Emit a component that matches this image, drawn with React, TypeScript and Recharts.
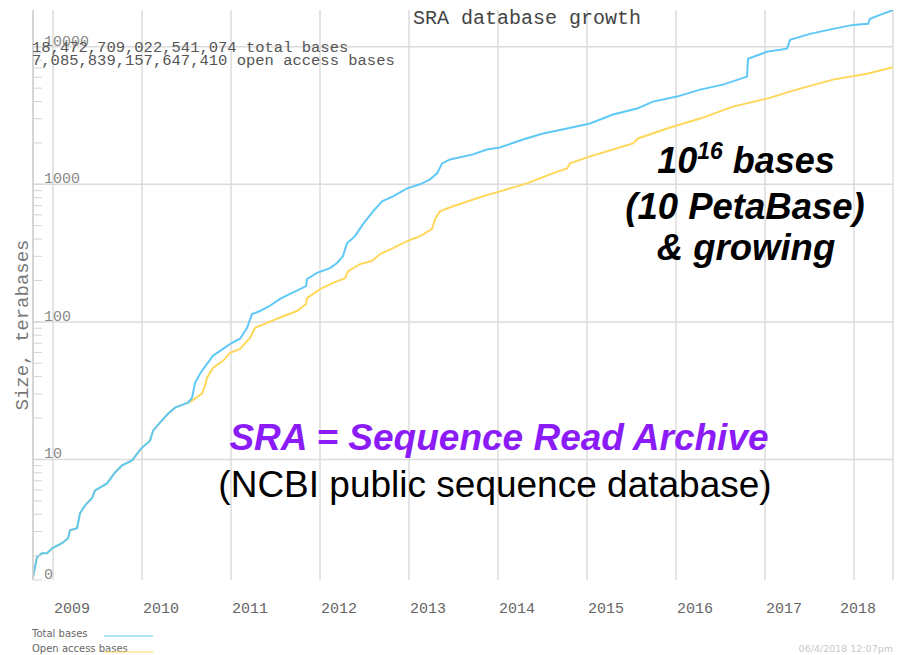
import React from 'react';
import {
  LineChart,
  Line,
  XAxis,
  YAxis,
  CartesianGrid,
  ReferenceLine,
} from 'recharts';

// decimal years and terabases
const totalDates = [
  2008.775, 2008.82, 2008.876, 2008.933, 2008.989, 2009.101, 2009.169, 2009.191, 2009.27, 2009.303,
  2009.36, 2009.438, 2009.472, 2009.551, 2009.607, 2009.697, 2009.775, 2009.888, 2009.955, 2010.0,
  2010.09, 2010.124, 2010.202, 2010.292, 2010.371, 2010.517, 2010.562, 2010.596, 2010.652, 2010.73,
  2010.798, 2010.91, 2011.011, 2011.101, 2011.18, 2011.236, 2011.326, 2011.438, 2011.551, 2011.663,
  2011.775, 2011.843, 2011.854, 2011.966, 2012.112, 2012.191, 2012.258, 2012.303, 2012.393, 2012.483,
  2012.596, 2012.697, 2012.82, 2012.978, 2013.124, 2013.236, 2013.315, 2013.371, 2013.461, 2013.719,
  2013.876, 2014.022, 2014.281, 2014.506, 2014.775, 2015.034, 2015.292, 2015.562, 2015.742, 2016.011,
  2016.27, 2016.528, 2016.798, 2016.809, 2017.022, 2017.247, 2017.281, 2017.506, 2017.764, 2017.989,
  2018.157, 2018.18, 2018.292, 2018.438,
];
const totalValues = [
  1.4, 1.95, 2.08, 2.08, 2.26, 2.46, 2.68, 3.06, 3.16, 4.06,
  4.64, 5.22, 5.96, 6.37, 6.7, 8.05, 9.05, 9.84, 11.2, 12.2,
  13.7, 16.2, 18.5, 21.5, 23.8, 25.9, 28.1, 36.1, 42.0, 49.6,
  56.8, 63.7, 70.5, 75.4, 90.5, 114, 120, 131, 147, 160,
  173, 182, 205, 227, 246, 268, 301, 373, 420, 513,
  637, 753, 818, 935, 1000, 1087, 1202, 1420, 1517, 1650,
  1793, 1855, 2118, 2343, 2548, 2770, 3215, 3554, 3994, 4343,
  4879, 5304, 6067, 8185, 9204, 9683, 11250, 12410, 13490, 14420,
  14690, 15960, 17060, 18472,
];

const openDates = [
  2008.775, 2008.82, 2008.876, 2008.933, 2008.989, 2009.101, 2009.169, 2009.191, 2009.27, 2009.303,
  2009.36, 2009.438, 2009.472, 2009.551, 2009.607, 2009.697, 2009.775, 2009.888, 2009.955, 2010.0,
  2010.09, 2010.124, 2010.202, 2010.292, 2010.371, 2010.517, 2010.562, 2010.674, 2010.708, 2010.73,
  2010.798, 2010.91, 2010.989, 2011.101, 2011.213, 2011.27, 2011.404, 2011.584, 2011.742, 2011.843,
  2011.854, 2012.0, 2012.146, 2012.281, 2012.315, 2012.449, 2012.584, 2012.674, 2012.82, 2012.978,
  2013.124, 2013.258, 2013.292, 2013.348, 2013.494, 2013.831, 2014.022, 2014.326, 2014.584, 2014.775,
  2014.809, 2015.034, 2015.292, 2015.517, 2015.573, 2015.899, 2016.27, 2016.64, 2017.022, 2017.393,
  2017.764, 2018.146, 2018.438,
];
const openValues = [
  1.4, 1.95, 2.08, 2.08, 2.26, 2.46, 2.68, 3.06, 3.16, 4.06,
  4.64, 5.22, 5.96, 6.37, 6.7, 8.05, 9.05, 9.84, 11.2, 12.2,
  13.7, 16.2, 18.5, 21.5, 23.8, 25.9, 26.8, 30.1, 34.3, 39.3,
  46.4, 52.1, 59.6, 63.7, 76.6, 90.5, 98.4, 110, 120, 135,
  149, 173, 192, 208, 234, 263, 277, 311, 344, 386,
  420, 472, 557, 637, 693, 818, 889, 1016, 1181, 1305,
  1420, 1596, 1793, 1983, 2154, 2548, 3006, 3672, 4199, 4963,
  5768, 6373, 7086,
];

const yearTicks = [2009, 2010, 2011, 2012, 2013, 2014, 2015, 2016, 2017, 2018];
const decadeTicks = [10, 100, 1000, 10000];
const yMin = 1.33;
const yMax = 18500;
const majorLabels: Record<string, string> = { '1.33': '0', '10': '10', '100': '100', '1000': '1000', '10000': '10000' };
const minorTicks = [1, 10, 100, 1000].flatMap((d) => [2, 3, 4, 5, 6, 7, 8, 9].map((m) => m * d));
const yTicks = [yMin, ...minorTicks.filter((v) => v < yMax), ...decadeTicks].sort((a, b) => a - b);

const totalData = totalDates.map((t, i) => ({ t, v: totalValues[i] }));
const openData = openDates.map((t, i) => ({ t, v: openValues[i] }));

const mono = '"Liberation Mono", "DejaVu Sans Mono", monospace';
const arial = '"Liberation Sans", Arial, sans-serif';

const YTick = (props: any) => {
  const { y, payload } = props;
  const label = majorLabels[String(payload.value)];
  if (label === undefined) return <g />;
  return (
    <text x={44} y={y - 1} fontFamily={mono} fontSize={15} fill="#8a8a8a">
      {label}
    </text>
  );
};

const XTick = (props: any) => {
  const { x, payload } = props;
  const shift = payload.value === 2018 ? -14 : 1;
  return (
    <text x={x + shift} y={613} fontFamily={mono} fontSize={15} fill="#666">
      {payload.value}
    </text>
  );
};

export default function App() {
  return (
    <div style={{ position: 'absolute', left: 0, top: 0, width: 900, height: 655, background: '#fff' }}>
      <LineChart
        width={900}
        height={655}
        margin={{ top: 10, right: 7, bottom: 0, left: 33 }}
      >
        <CartesianGrid horizontal={false} stroke="#dcdcdc" strokeWidth={1.5} />
        <XAxis
          type="number"
          dataKey="t"
          domain={[2008.775, 2018.438]}
          ticks={yearTicks}
          interval={0}
          height={75}
          axisLine={false}
          tickLine={false}
          tick={<XTick />}
          allowDataOverflow
        />
        <YAxis
          type="number"
          dataKey="v"
          scale="log"
          domain={[yMin, yMax]}
          ticks={yTicks}
          interval={0}
          mirror
          width={10}
          tickSize={9}
          axisLine={{ stroke: '#cfcfcf', strokeWidth: 1.5 }}
          tickLine={{ stroke: '#d2d2d2' }}
          tick={<YTick />}
          allowDataOverflow
        />
        {decadeTicks.map((v) => (
          <ReferenceLine key={v} y={v} stroke="#dcdcdc" strokeWidth={1.5} />
        ))}
        <Line
          data={openData}
          dataKey="v"
          type="linear"
          stroke="#FFD75A"
          strokeWidth={2}
          dot={false}
          isAnimationActive={false}
        />
        <Line
          data={totalData}
          dataKey="v"
          type="linear"
          stroke="#5EC8F6"
          strokeWidth={2}
          dot={false}
          isAnimationActive={false}
        />
      </LineChart>
      <svg
        width={900}
        height={655}
        style={{ position: 'absolute', left: 0, top: 0, pointerEvents: 'none' }}
      >
        <text x={413} y={24} fontFamily={mono} fontSize={20} fill="#444">
          SRA database growth
        </text>
        <text x={32} y={52} fontFamily={mono} fontSize={15.5} fill="#555">
          18,472,709,022,541,074 total bases
        </text>
        <text x={32} y={65} fontFamily={mono} fontSize={15.5} fill="#555">
          7,085,839,157,647,410 open access bases
        </text>
        <text
          x={28}
          y={325}
          transform="rotate(-90 28 325)"
          textAnchor="middle"
          fontFamily={mono}
          fontSize={19}
          fill="#777"
        >
          Size, terabases
        </text>

        <text x={746} y={173} textAnchor="middle" fontFamily={arial} fontWeight="bold" fontStyle="italic" fontSize={36} fill="#000">
          10<tspan fontSize={23} dy={-14}>16</tspan>
          <tspan dy={14}> bases</tspan>
        </text>
        <text x={745} y={219} textAnchor="middle" fontFamily={arial} fontWeight="bold" fontStyle="italic" fontSize={36.5} fill="#000">
          (10 PetaBase)
        </text>
        <text x={746} y={260} textAnchor="middle" fontFamily={arial} fontWeight="bold" fontStyle="italic" fontSize={36.5} fill="#000">
          &amp; growing
        </text>

        <text x={499} y={450} textAnchor="middle" fontFamily={arial} fontWeight="bold" fontStyle="italic" fontSize={37} fill="#8B1CF7">
          SRA = Sequence Read Archive
        </text>
        <text x={495} y={497} textAnchor="middle" fontFamily={arial} fontSize={37} fill="#000">
          (NCBI public sequence database)
        </text>

        <text x={32} y={637} fontFamily='"DejaVu Sans", sans-serif' fontSize={10} fill="#666">
          Total bases
        </text>
        <line x1={104} x2={153} y1={636} y2={636} stroke="#5EC8F6" strokeWidth={1.2} />
        <text x={32} y={652} fontFamily='"DejaVu Sans", sans-serif' fontSize={10} fill="#666">
          Open access bases
        </text>
        <line x1={104} x2={153} y1={652} y2={652} stroke="#FFD75A" strokeWidth={1.2} />
        <text x={893} y={652} textAnchor="end" fontFamily='"DejaVu Sans", sans-serif' fontSize={9.5} fill="#c8c8c8">
          06/4/2018 12:07pm
        </text>
      </svg>
    </div>
  );
}
